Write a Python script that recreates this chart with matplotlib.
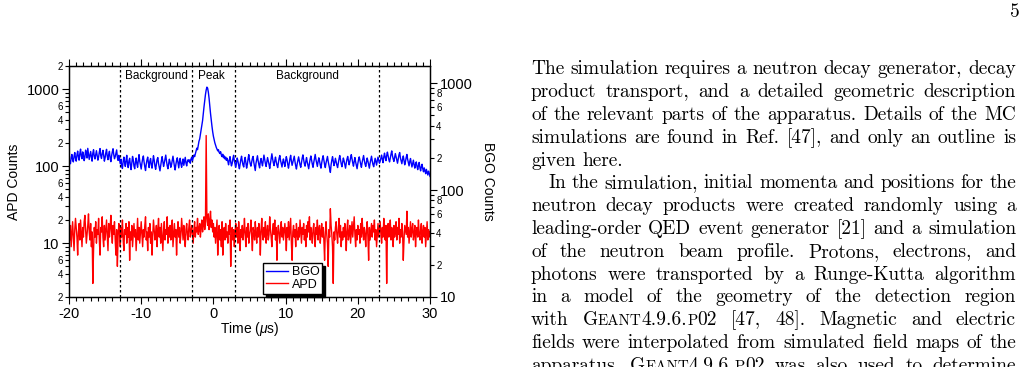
import numpy as np
import matplotlib
matplotlib.use('Agg')
import matplotlib.pyplot as plt
from matplotlib.ticker import FixedLocator, LogLocator, MultipleLocator, FuncFormatter

plt.rcParams['font.family'] = 'Liberation Sans'
plt.rcParams['mathtext.fontset'] = 'custom'
plt.rcParams['mathtext.it'] = 'Liberation Sans:italic'
plt.rcParams['mathtext.rm'] = 'Liberation Sans'
plt.rcParams['axes.unicode_minus'] = False

# time bins (us), 0.1 us wide
t_start, t_stop, t_step = -20.0, 30.0, 0.1
time = np.round(np.arange(t_start, t_stop + t_step / 2, t_step), 2)

# BGO counts (blue, right axis)
bgo = [170, 188, 176, 201, 215, 192, 183, 207, 224, 198,
       186, 212, 231, 205, 190, 219, 241, 208, 196, 227,
       213, 188, 202, 236, 220, 199, 245, 217, 193, 210,
       229, 204, 186, 221, 238, 207, 195, 214, 233, 211,
       190, 203, 226, 244, 209, 197, 218, 235, 212, 186,
       200, 223, 240, 206, 192, 215, 230, 198, 184, 209,
       227, 243, 214, 196, 205, 221, 237, 202, 189, 211,
       194,
       176, 194, 168, 159, 185, 203, 181, 166, 190, 211,
       174, 162, 187, 198, 171, 155, 180, 206, 192, 167,
       158, 183, 199, 176, 163, 189, 214, 185, 170, 157,
       178, 196, 208, 182, 165, 152, 174, 191, 203, 179,
       162, 186, 197, 172, 160, 184, 209, 190, 168, 156,
       175, 193, 201, 177, 164, 151, 170, 188, 205, 183,
       166, 179, 196, 212, 187, 169, 158, 176, 194, 181,
       163, 172, 190, 207, 185, 167, 154, 173, 189, 200,
       178, 161, 184, 198, 175, 163, 181, 195, 170, 186,
       202, 179, 168, 185, 192,
       184, 191, 178, 195, 203, 188, 199, 212, 205, 218,
       230, 246, 238, 262, 285, 300, 330, 362, 398, 445,
       520, 600, 690, 780, 860, 915, 895, 820, 720, 610,
       520, 450, 395, 350, 318, 295, 276, 262, 250, 241,
       232, 238, 224, 219, 228, 212, 205, 216, 200, 208,
       195, 203, 189, 198, 186,
       172, 190, 205, 183, 168, 177, 196, 211, 188, 174,
       163, 181, 199, 186, 170, 158, 176, 193, 207, 185,
       171, 164, 188, 202, 179, 160, 173, 195, 214, 190,
       176, 167, 183, 198, 206, 181, 165, 152, 178, 192,
       209, 187, 172, 161, 185, 197, 180, 168, 189, 212,
       194, 177, 166, 183, 201, 188, 174, 159, 176, 195,
       218, 196, 180, 169, 187, 203, 184, 171, 162, 180,
       198, 210, 189, 175, 164, 182, 195, 178, 166, 187,
       205, 191, 173, 160, 178, 196, 211, 186, 170, 181,
       193, 207, 184, 168, 157, 175, 190, 204, 188, 172,
       163, 180, 199, 213, 192, 176, 167, 185, 201, 182,
       170, 158, 177, 194, 208, 189, 174, 163, 181, 197,
       215, 193, 178, 166, 184, 200, 187, 171, 160, 179,
       196, 209, 190, 173, 162, 179, 192, 206, 185, 170,
       158, 146, 172, 190, 205, 186, 169, 180, 198, 183,
       171, 162, 179, 195, 210, 191, 176, 165, 182, 199,
       187, 173, 160, 178, 194, 206, 189, 172, 184, 200,
       214, 195, 179, 167, 185, 201, 183, 170, 158, 176,
       192, 204, 188, 174, 163, 181, 196, 210, 190, 175,
       166, 183, 199, 186, 172, 160, 178, 193, 207, 187,
       173, 165, 182, 198, 184, 171, 189, 203, 191, 178,
       186, 199, 212, 193, 180, 204, 221, 201, 188, 210,
       226, 207, 192, 183, 199, 216, 232, 209, 195, 185,
       202, 219, 205, 190, 178, 196, 213, 224, 200, 187,
       176, 193, 208, 189, 172, 184, 201, 215, 194, 180,
       168, 185, 197, 178, 164, 176, 190, 172, 160, 174,
       183, 166, 155, 170, 181, 162, 151, 165, 174, 158,
       148, 161, 152, 142, 156, 147, 138, 150, 143, 134]

# APD counts (red, left axis)
apd = [14, 11, 17, 9, 13, 19, 12, 8, 15, 21,
       16, 12, 7, 14, 18, 11, 20, 13, 9, 16,
       12, 19, 23, 15, 10, 13, 17, 24, 14, 11,
       18, 9, 14, 3, 8, 16, 12, 19, 10, 15,
       13, 21, 11, 7, 16, 14, 22, 12, 9, 17,
       11, 15, 20, 13, 8, 18, 12, 16, 23, 14,
       10, 17, 13, 19, 11, 7, 15, 5, 12, 18,
       14, 9, 16, 12, 20, 11, 8, 15, 13, 18,
       10, 16, 12, 19, 6, 14, 11, 17, 9, 13,
       18, 12, 15, 8, 13, 21, 11, 16, 10, 14,
       19, 13, 9, 15, 12, 17, 22, 11, 14, 8,
       16, 12, 18, 10, 14, 7, 13, 20, 15, 11,
       13, 17, 9, 15, 21, 12, 16, 10, 18, 12,
       8, 14, 19, 11, 15, 13, 22, 10, 16, 12,
       17, 11, 14, 20, 9, 13, 18, 12, 15, 7,
       14, 19, 12, 16, 10, 13, 21, 15, 11, 17,
       12, 9, 15, 18, 13, 11, 16, 20, 12, 14,
       17, 13, 10, 15, 19, 12, 16, 14, 21, 13,
       15, 18, 12, 16, 20, 14, 17, 22, 15, 19,
       250, 21, 17, 24, 15, 19, 26, 16, 20, 14,
       18, 12, 16, 10, 14, 20, 7, 13, 17, 11,
       15, 9, 19, 7, 13, 16, 11, 18, 12, 14,
       10, 17, 13, 20, 5, 12, 16, 11, 15, 9,
       14, 18, 12, 16, 10, 19, 13, 8, 15, 12,
       17, 11, 14, 21, 13, 9, 16, 12, 18, 10,
       13, 15, 20, 12, 8, 16, 14, 11, 19, 13,
       10, 16, 12, 18, 14, 7, 15, 21, 13, 11,
       16, 12, 19, 10, 14, 17, 11, 13, 22, 15,
       12, 9, 15, 18, 13, 20, 11, 16, 6, 14,
       17, 13, 10, 15, 19, 12, 16, 11, 14, 18,
       13, 8, 16, 12, 19, 11, 15, 21, 10, 6,
       14, 17, 12, 15, 9, 18, 13, 11, 16, 12,
       20, 14, 10, 16, 13, 18, 11, 15, 9, 17,
       12, 19, 14, 22, 11, 16, 13, 10, 15, 18,
       12, 9, 16, 13, 20, 11, 15, 17, 10, 14,
       18, 12, 16, 11, 6, 14, 19, 13, 10, 5,
       15, 12, 28, 17, 13, 9, 3, 14, 11, 16,
       19, 13, 10, 15, 21, 12, 17, 9, 14, 11,
       16, 12, 18, 14, 8, 15, 20, 11, 13, 17,
       10, 14, 19, 12, 16, 22, 13, 9, 15, 11,
       17, 13, 15, 10, 18, 12, 21, 14, 11, 16,
       13, 9, 15, 19, 12, 6, 16, 11, 14, 18,
       12, 17, 14, 20, 11, 15, 9, 13, 18, 12,
       15, 19, 13, 10, 16, 12, 21, 14, 11, 17,
       3, 13, 18, 12, 15, 20, 11, 16, 14, 9,
       17, 12, 14, 19, 11, 16, 13, 21, 10, 15,
       12, 18, 14, 6, 11, 17, 15, 13, 26, 12,
       16, 10, 14, 19, 12, 15, 18, 11, 13, 17,
       9, 14, 16, 12, 20, 13, 11, 15, 18, 10,
       14, 17, 12, 16, 9, 13, 19, 11, 15, 12,
       14]

assert len(bgo) == len(time) and len(apd) == len(time), (len(bgo), len(apd), len(time))

cuts = [-13, -3, 3, 23]
regions = [(-7.9, 'Background'), (-0.3, 'Peak'), (13, 'Background')]

W, H = 1027, 367
fig = plt.figure(figsize=(W / 100, H / 100), dpi=100)
ax = fig.add_axes([69 / W, 1 - 297 / H, 361 / W, 231 / H])
ax2 = ax.twinx()

l_apd, = ax.plot(time, apd, color='#ff0000', lw=1.0)
l_bgo, = ax2.plot(time, bgo, color='#0000ff', lw=1.0)

for c in cuts:
    ax.axvline(c, color='k', lw=0.9, ls=(0, (2, 2)))
for x, s in regions:
    ax.text(x, 0.957, s, transform=ax.get_xaxis_transform(), ha='center',
            va='center', fontsize=8.5)

ax.set_xlim(-20, 30)
ax.set_yscale('log')
ax.set_ylim(2, 2000)
ax2.set_yscale('log')
ax2.set_ylim(10, 1442)


def minor_fmt(keep):
    def f(v, pos):
        m = int(round(v / 10 ** np.floor(np.log10(v) + 1e-9)))
        return str(m) if m in keep else ''
    return FuncFormatter(f)


for a, keep in [(ax, (2, 4, 6)), (ax2, (2, 4, 6, 8))]:
    a.yaxis.set_major_locator(FixedLocator([10, 100, 1000]))
    a.yaxis.set_major_formatter(FuncFormatter(lambda v, p: f'{v:g}'))
    a.yaxis.set_minor_locator(LogLocator(subs=np.arange(2, 10), numticks=20))
    a.yaxis.set_minor_formatter(minor_fmt(keep))
    a.tick_params(axis='y', which='major', length=5, width=0.8, labelsize=10.5, pad=2)
    a.tick_params(axis='y', which='minor', length=3, width=0.8, labelsize=7, pad=1.5)

ax.xaxis.set_major_locator(MultipleLocator(10))
ax.xaxis.set_minor_locator(MultipleLocator(1))
ax.tick_params(axis='x', which='both', top=True, labeltop=False, width=0.8)
ax.tick_params(axis='x', which='major', length=5, labelsize=10.5, pad=2)
ax.tick_params(axis='x', which='minor', length=3)
for a in (ax, ax2):
    for sp in a.spines.values():
        sp.set_linewidth(0.9)

ax.set_ylabel('APD Counts', fontsize=10, va='center')
ax.yaxis.set_label_coords(-(69 - 14) / 361, 0.5)
ax2.set_ylabel('BGO Counts', fontsize=10, rotation=-90, va='center')
ax2.yaxis.set_label_coords(1 + (488 - 430) / 361, 0.5)
ax.set_xlabel(r'Time ($\mathit{\mu}$s)', fontsize=10, va='center')
ax.xaxis.set_label_coords(0.5, -(329 - 297) / 231)

ax2.legend([l_bgo, l_apd], ['BGO', 'APD'], loc='lower left',
           bbox_to_anchor=(0.537, 0.013), borderaxespad=0, fancybox=False,
           edgecolor='k', framealpha=1, shadow={'color': 'k', 'alpha': 1},
           fontsize=9, handlelength=1.75, handletextpad=0.3, borderpad=0.25,
           labelspacing=0.05)

# ---- text column on the right ----
lines = [
    ("The simulation requires a neutron decay generator, decay", 0, True),
    ("product transport, and a detailed geometric description", 0, True),
    ("of the relevant parts of the apparatus. Details of the MC", 0, True),
    ("simulations are found in Ref. [47], and only an outline is", 0, True),
    ("given here.", 0, False),
    ("In the simulation, initial momenta and positions for the", 1, True),
    ("neutron decay products were created randomly using a", 0, True),
    ("leading-order QED event generator [21] and a simulation", 0, True),
    ("of the neutron beam profile. Protons, electrons, and", 0, True),
    ("photons were transported by a Runge-Kutta algorithm", 0, True),
    ("in a model of the geometry of the detection region", 0, True),
    ("with G{EANT}4.9.6.{P}02 [47, 48]. Magnetic and electric", 0, True),
    ("fields were interpolated from simulated field maps of the", 0, True),
    ("apparatus. G{EANT}4.9.6.{P}02 was also used to determine", 0, True),
]
col_l, col_r, indent = 531, 1016, 17
base0, lead = 74.5, 22.8
renderer = fig.canvas.get_renderer()


def segments(word):
    out, small, buf = [], False, ''
    for ch in word:
        if ch in '{}':
            if buf:
                out.append((buf, small))
            buf, small = '', ch == '{'
        else:
            buf += ch
    if buf:
        out.append((buf, small))
    return out


def put_word(word, x, y, fs, draw=True):
    for s, small in segments(word):
        t = fig.text(x / W, 1 - y / H, s, family='cmr10',
                     fontsize=fs * (0.78 if small else 1), va='baseline', ha='left')
        w = t.get_window_extent(renderer).width
        if not draw:
            t.remove()
        x += w
    return x


# pick the font size so the tightest justified line fits with 0.3 em spaces
fs0 = 14.0
ratios = []
for txt, ind, just in lines:
    if not just:
        continue
    words = txt.split(' ')
    nat = sum(put_word(w, 0, -100, fs0, draw=False) for w in words)
    nat += (len(words) - 1) * 0.3 * fs0 * 100 / 72
    ratios.append((col_r - col_l - ind * indent) / nat)
fs = fs0 * min(ratios)

for i, (txt, ind, just) in enumerate(lines):
    y = base0 + i * lead
    words = txt.split(' ')
    x0 = col_l + ind * indent
    widths = [put_word(w, 0, -100, fs, draw=False) for w in words]
    if just and len(words) > 1:
        gap = (col_r - x0 - sum(widths)) / (len(words) - 1)
    else:
        gap = 0.333 * fs * 100 / 72
    x = x0
    for w, wd in zip(words, widths):
        put_word(w, x, y, fs)
        x += wd + gap

fig.text(1015 / W, 1 - 17 / H, '5', family='cmr10', fontsize=fs, ha='center', va='baseline')

fig.savefig('out.png', dpi=100)
